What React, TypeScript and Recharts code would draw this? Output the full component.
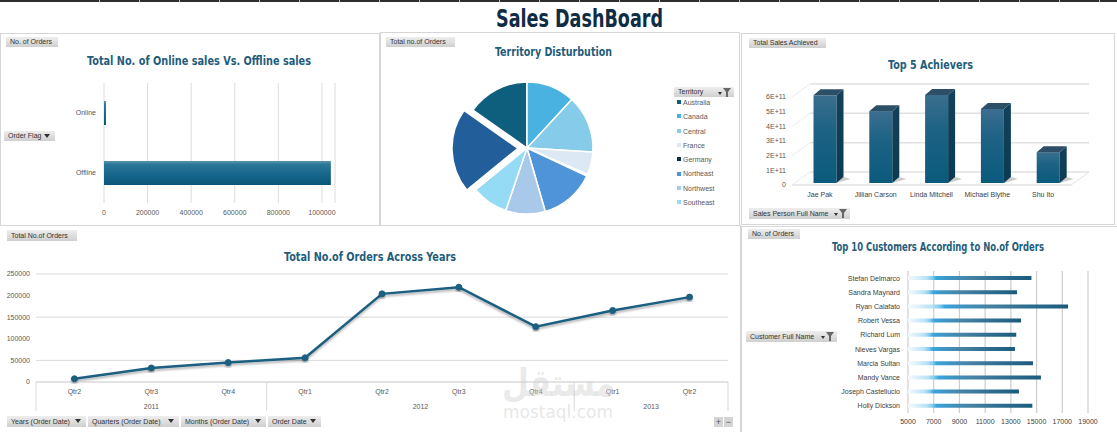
import React from 'react';
import { BarChart, Bar, XAxis, YAxis, CartesianGrid, PieChart, Pie, Cell, LineChart, Line } from 'recharts';

const FONT = "'Liberation Sans', Arial, 'DejaVu Sans', sans-serif";
const TITLE_FONT = "'DejaVu Sans Condensed', 'DejaVu Sans', 'Liberation Sans', sans-serif";
const TEAL = '#1f5d7c';
const AXIS_TEXT = '#595959';

// ---- Online vs Offline ----
const orderFlags = ['Online', 'Offline'];
const orderFlagCounts = [9000, 1041000];
const orderFlagTicks = [0, 200000, 400000, 600000, 800000, 1000000];

// ---- Territory ----
const territories = ['Australia', 'Canada', 'Central', 'France', 'Germany', 'Northeast', 'Northwest', 'Southeast', 'Southwest'];
const territoryOrders = [161000, 125000, 149000, 59000, 4000, 143000, 102000, 94000, 217000];
const territoryColors = ['#0e5e7e', '#4ab2e0', '#87cbea', '#dce9f5', '#0c2c40', '#4f94d8', '#a9c9eb', '#95dbf5', '#225e9a'];
const legendTerritories = ['Australia', 'Canada', 'Central', 'France', 'Germany', 'Northeast', 'Northwest', 'Southeast'];
const explodedTerritory = 'Southwest';

// ---- Top 5 achievers ----
const salesPeople = ['Jae Pak', 'Jillian Carson', 'Linda Mitchell', 'Michael Blythe', 'Shu Ito'];
const salesAchieved = [5.98e11, 4.9e11, 6.0e11, 5.05e11, 2.1e11];
const salesTicks = [0, 1e11, 2e11, 3e11, 4e11, 5e11, 6e11];

// ---- Orders across years ----
const quarters = ['Qtr2', 'Qtr3', 'Qtr4', 'Qtr1', 'Qtr2', 'Qtr3', 'Qtr4', 'Qtr1', 'Qtr2'];
const quarterYears = ['2011', '2011', '2011', '2012', '2012', '2012', '2012', '2013', '2013'];
const quarterOrders = [7500, 32500, 45000, 56000, 204000, 219500, 128000, 165500, 196500];
const orderTicks = [0, 50000, 100000, 150000, 200000, 250000];

// ---- Top 10 customers ----
const customers = ['Stefan Delmarco', 'Sandra Maynard', 'Ryan Calafato', 'Robert Vessa', 'Richard Lum', 'Nieves Vargas', 'Marcia Sultan', 'Mandy Vance', 'Joseph Castellucio', 'Holly Dickson'];
const customerOrders = [14600, 13480, 17450, 13790, 13420, 13320, 14720, 15340, 13630, 14670];
const customerTicks = [5000, 7000, 9000, 11000, 13000, 15000, 17000, 19000];

const flagData = orderFlags.map((f, i) => ({ flag: f, value: orderFlagCounts[i] }));
const territoryData = territories.map((t, i) => ({ name: t, value: territoryOrders[i] }));
const salesData = salesPeople.map((p, i) => ({ name: p, value: salesAchieved[i] }));
const quarterData = quarters.map((q, i) => ({ q, year: quarterYears[i], value: quarterOrders[i] }));
const customerData = customers.map((c, i) => ({ name: c, value: customerOrders[i] }));

const tickStyle = { fontSize: 7, fill: AXIS_TEXT, fontFamily: FONT };
const nameStyle = { fontSize: 7, fill: '#404040', fontFamily: FONT };

const Arrow = () => (
  <svg width={6} height={4} style={{ position: 'absolute', right: 5, top: 3 }}>
    <polygon points="0,0 6,0 3,4" fill="#333" />
  </svg>
);

const FilterIcon = () => (
  <svg width={13} height={9} style={{ position: 'absolute', right: 3, top: 1 }}>
    <polygon points="0,4 4,4 2,7" fill="#333" />
    <polygon points="5,0 13,0 10,4 10,9 8,9 8,4" fill="#666" />
  </svg>
);

const Btn = ({ x, y, w, h = 10, label, arrow = false, filter = false }: any) => (
  <div
    style={{
      position: 'absolute', left: x, top: y, width: w, height: h, boxSizing: 'border-box',
      background: 'linear-gradient(#eeeeee, #cfcfcf)', color: '#333', fontSize: 7,
      lineHeight: `${h}px`, paddingLeft: 4, whiteSpace: 'nowrap', fontFamily: FONT, overflow: 'hidden',
    }}
  >
    {label}
    {arrow && <Arrow />}
    {filter && <FilterIcon />}
  </div>
);

const Title = ({ cx, cy, w, text, size = 12.5, color = TEAL }: any) => (
  <svg style={{ position: 'absolute', left: cx - w / 2 - 2, top: cy - size, overflow: 'visible' }} width={w + 4} height={size * 2}>
    <text
      x={2} y={size * 1.36} textLength={w} lengthAdjust="spacingAndGlyphs"
      fontWeight={700} fontSize={size} fill={color} fontFamily={TITLE_FONT}
    >
      {text}
    </text>
  </svg>
);

const Bar3D = (props: any) => {
  const { x, y, width, height } = props;
  if (width == null || height == null) return null;
  const fx = x + 5.5;
  const fy = y - 2;
  const dx = 7;
  const dy = 6;
  return (
    <g>
      <polygon
        points={`${fx + width},${fy + height} ${fx + width + 14},${fy + height - 4} ${fx + width + dx},${fy + height - dy}`}
        fill="#8c8c8c" opacity={0.45}
      />
      <rect x={fx} y={fy} width={width} height={height} fill="url(#b3front)" />
      <polygon
        points={`${fx + width},${fy} ${fx + width + dx},${fy - dy} ${fx + width + dx},${fy + height - dy} ${fx + width},${fy + height}`}
        fill="url(#b3side)"
      />
      <polygon
        points={`${fx},${fy} ${fx + dx},${fy - dy} ${fx + width + dx},${fy - dy} ${fx + width},${fy}`}
        fill="#2c4e66"
      />
    </g>
  );
};

const Grid3DLine = (p: any) => {
  const { x1, y1, x2 } = p;
  const bottom = p.y != null && p.height != null ? p.y + p.height : null;
  const isFloor = bottom != null ? Math.abs(y1 - bottom) < 0.5 : p.index === 0;
  return (
    <g key={p.key}>
      <line x1={x1} y1={y1} x2={x1 + 18} y2={y1 - 13} stroke="#ececec" strokeWidth={1} />
      <line x1={x1 + 18} y1={y1 - 13} x2={x2 + 18} y2={y1 - 13} stroke="#e2e2e2" strokeWidth={1.5} />
      {isFloor && <line x1={x1} y1={y1} x2={x2} y2={y1} stroke="#e2e2e2" strokeWidth={1.5} />}
      {isFloor && <line x1={x2} y1={y1} x2={x2 + 18} y2={y1 - 13} stroke="#e2e2e2" strokeWidth={1} />}
    </g>
  );
};

// line chart layout
const C4 = { w: 740, h: 206, margin: { top: 48, right: 12, bottom: 20, left: 6 }, yw: 30, xh: 30 };
const C4_BAND = (C4.w - C4.margin.left - C4.margin.right - C4.yw) / quarters.length;

const QuarterTick = (props: any) => {
  const { x, y, payload, index } = props;
  const i = index;
  const n = quarters.length;
  const year = quarterYears[i];
  const isFirst = i === 0 || quarterYears[i - 1] !== year;
  let groupSize = 0;
  for (let j = i; j < n && quarterYears[j] === year; j++) groupSize++;
  const bw = C4_BAND;
  return (
    <g>
      <text x={x} y={y + 12} textAnchor="middle" {...tickStyle}>{payload.value}</text>
      {isFirst && (
        <g>
          <line x1={x - bw / 2} y1={y} x2={x - bw / 2} y2={y + 29} stroke="#d9d9d9" strokeWidth={1} />
          <text x={x + ((groupSize - 1) * bw) / 2} y={y + 27} textAnchor="middle" {...tickStyle}>{year}</text>
        </g>
      )}
      {i === n - 1 && <line x1={x + bw / 2} y1={y} x2={x + bw / 2} y2={y + 29} stroke="#d9d9d9" strokeWidth={1} />}
    </g>
  );
};

// pie geometry
const PIE_START = 145;
const PIE_CX = 146;
const PIE_CY = 115;
const PIE_R = 66;
const totalOrders = territoryOrders.reduce((a, b) => a + b, 0);
const explodedIdx = territories.indexOf(explodedTerritory);
const beforeExploded = territoryOrders.slice(0, explodedIdx).reduce((a, b) => a + b, 0);
const explodedMid = PIE_START - ((beforeExploded + territoryOrders[explodedIdx] / 2) / totalOrders) * 360;
const EXPLODE = 9;
const explodeDx = EXPLODE * Math.cos((explodedMid * Math.PI) / 180);
const explodeDy = -EXPLODE * Math.sin((explodedMid * Math.PI) / 180);

const panels = [
  { x: 0, y: 33, w: 380, h: 193 },
  { x: 380, y: 32, w: 360, h: 194 },
  { x: 741, y: 33, w: 374, h: 192 },
  { x: -2, y: 225, w: 743, h: 212 },
  { x: 741, y: 226, w: 380, h: 210 },
];

const notches = Array.from({ length: 26 }, (_, k) => 99 + k * 40);

export default function App() {
  return (
    <div style={{ position: 'fixed', left: 0, top: 0, width: 1117, height: 432, background: '#fff', overflow: 'hidden', fontFamily: FONT }}>
      <div style={{ position: 'absolute', left: 0, top: 0, width: 1117, height: 2, background: '#2e2e2e' }} />
      {notches.map((nx) => (
        <div key={nx} style={{ position: 'absolute', left: nx, top: 0, width: 1, height: 2, background: '#bdbdbd' }} />
      ))}
      <Title cx={579.5} cy={18} w={167} text="Sales DashBoard" size={25} color="#0f2c44" />

      {panels.map((p, i) => (
        <div key={i} style={{ position: 'absolute', left: p.x, top: p.y, width: p.w, height: p.h, border: '1.5px solid #d6d6d6', boxSizing: 'border-box' }} />
      ))}

      {/* Chart 1: Online vs Offline */}
      <div style={{ position: 'absolute', left: 0, top: 33 }}>
        <BarChart width={380} height={192} data={flagData} layout="vertical" margin={{ top: 50, right: 45, bottom: 6, left: 20 }}>
          <defs>
            <linearGradient id="g1" x1="0" y1="0" x2="0" y2="1">
              <stop offset="0" stopColor="#5a93ae" />
              <stop offset="0.15" stopColor="#2a7697" />
              <stop offset="0.6" stopColor="#15658a" />
              <stop offset="1" stopColor="#0a5577" />
            </linearGradient>
          </defs>
          <CartesianGrid horizontal={false} stroke="#dcdcdc" strokeWidth={1} />
          <XAxis type="number" domain={[0, 1060000]} ticks={orderFlagTicks} axisLine={false} tickLine={false} tickSize={0} tickMargin={7} height={16} tick={tickStyle} interval={0} />
          <YAxis type="category" dataKey="flag" width={84} axisLine={false} tickLine={false} tickSize={0} tickMargin={8} tick={tickStyle} />
          <Bar dataKey="value" fill="url(#g1)" barSize={24} isAnimationActive={false} />
        </BarChart>
      </div>
      <Title cx={199} cy={60.5} w={224} text="Total No. of Online sales Vs. Offline sales" />
      <Btn x={6} y={37} w={52} label="No. of Orders" />
      <Btn x={4} y={131} w={51} label="Order Flag" arrow />

      {/* Chart 2: Territory pie */}
      <div style={{ position: 'absolute', left: 381, top: 33 }}>
        <PieChart width={358} height={192} margin={{ top: 0, right: 0, bottom: 0, left: 0 }}>
          <Pie data={territoryData} dataKey="value" nameKey="name" cx={PIE_CX} cy={PIE_CY} outerRadius={PIE_R} startAngle={PIE_START} endAngle={PIE_START - 360} stroke="#fff" strokeWidth={1.5} isAnimationActive={false} label={false}>
            {territoryData.map((d, i) => (
              <Cell key={d.name} fill={i === explodedIdx ? 'none' : territoryColors[i]} stroke={i === explodedIdx ? 'none' : '#fff'} />
            ))}
          </Pie>
          <Pie data={territoryData} dataKey="value" nameKey="name" cx={PIE_CX + explodeDx} cy={PIE_CY + explodeDy} outerRadius={PIE_R} startAngle={PIE_START} endAngle={PIE_START - 360} stroke="#fff" strokeWidth={1.5} isAnimationActive={false} label={false}>
            {territoryData.map((d, i) => (
              <Cell key={d.name} fill={i === explodedIdx ? territoryColors[i] : 'none'} stroke={i === explodedIdx ? '#fff' : 'none'} />
            ))}
          </Pie>
        </PieChart>
      </div>
      <Title cx={553.5} cy={51.5} w={117} text="Territory Disturbution" />
      <Btn x={386} y={37} w={69} label="Total no.of Orders" />
      <Btn x={674} y={87} w={60} label="Territory" filter />
      {legendTerritories.map((t, i) => (
        <div key={t} style={{ position: 'absolute', left: 677, top: 103 + i * 14.28 - 5, height: 10, lineHeight: '10px', fontSize: 7, color: AXIS_TEXT, whiteSpace: 'nowrap' }}>
          <span style={{ display: 'inline-block', width: 4, height: 4, background: territoryColors[territories.indexOf(t)], marginRight: 2, verticalAlign: 'middle', position: 'relative', top: -1 }} />
          {t}
        </div>
      ))}

      {/* Chart 3: Top 5 Achievers */}
      <div style={{ position: 'absolute', left: 741, top: 33 }}>
        <BarChart width={376} height={192} data={salesData} margin={{ top: 64, right: 46, bottom: 20, left: 6 }}>
          <defs>
            <linearGradient id="b3front" x1="0" y1="0" x2="0" y2="1">
              <stop offset="0" stopColor="#3b6e8e" />
              <stop offset="0.4" stopColor="#1d6285" />
              <stop offset="1" stopColor="#0a5a7c" />
            </linearGradient>
            <linearGradient id="b3side" x1="0" y1="0" x2="0" y2="1">
              <stop offset="0" stopColor="#12425b" />
              <stop offset="1" stopColor="#0b3a52" />
            </linearGradient>
          </defs>
          <CartesianGrid vertical={false} horizontal={Grid3DLine} />
          <XAxis dataKey="name" axisLine={false} tickLine={false} tickSize={0} tickMargin={7} height={20} tick={nameStyle} interval={0} />
          <YAxis domain={[0, 6e11]} ticks={salesTicks} width={45} axisLine={false} tickLine={false} tickSize={0} tickMargin={6} tick={tickStyle} tickFormatter={(v: number) => (v === 0 ? '0' : `${Math.round(v / 1e11)}E+11`)} />
          <Bar dataKey="value" barSize={23} shape={Bar3D} isAnimationActive={false} />
        </BarChart>
      </div>
      <Title cx={930.5} cy={64} w={85} text="Top 5 Achievers" />
      <Btn x={749} y={38} w={77} label="Total Sales Achieved" />
      <Btn x={749} y={208} w={101} h={11} label="Sales Person Full Name" filter />

      {/* Chart 4: Orders across years */}
      <div style={{ position: 'absolute', left: 0, top: 226 }}>
        <LineChart width={C4.w} height={C4.h} data={quarterData} margin={C4.margin}>
          <defs>
            <filter id="lineShadow" x="-10%" y="-10%" width="120%" height="140%">
              <feDropShadow dx="0" dy="2" stdDeviation="1.2" floodColor="#000" floodOpacity="0.3" />
            </filter>
          </defs>
          <CartesianGrid vertical={false} stroke="#d9d9d9" strokeWidth={1} />
          <XAxis dataKey="q" height={C4.xh} padding={{ left: C4_BAND / 2, right: C4_BAND / 2 }} axisLine={{ stroke: '#d9d9d9' }} tickLine={false} tickSize={0} tickMargin={0} interval={0} tick={QuarterTick} />
          <YAxis domain={[0, 250000]} ticks={orderTicks} width={C4.yw} axisLine={false} tickLine={false} tickSize={0} tickMargin={6} tick={tickStyle} />
          <Line type="linear" dataKey="value" stroke="#1d5f80" strokeWidth={2.5} filter="url(#lineShadow)" dot={{ r: 3, fill: '#1d5f80', stroke: '#1d5f80', strokeWidth: 1 }} isAnimationActive={false} />
        </LineChart>
      </div>
      <Title cx={370} cy={256.5} w={172} text="Total No.of Orders Across Years" />
      <Btn x={7} y={230} w={70} h={11} label="Total No.of Orders" />
      <Btn x={7} y={416} w={79} h={11} label="Years (Order Date)" arrow />
      <Btn x={88} y={416} w={91} h={11} label="Quarters (Order Date)" arrow />
      <Btn x={181} y={416} w={85} h={11} label="Months (Order Date)" arrow />
      <Btn x={268} y={416} w={53} h={11} label="Order Date" arrow />
      <div style={{ position: 'absolute', left: 714, top: 417, width: 9, height: 10, background: '#d4d4d4', color: '#555', fontSize: 9, lineHeight: '10px', textAlign: 'center' }}>+</div>
      <div style={{ position: 'absolute', left: 724, top: 417, width: 9, height: 10, background: '#d4d4d4', color: '#555', fontSize: 9, lineHeight: '10px', textAlign: 'center' }}>−</div>

      {/* Chart 5: Top 10 customers */}
      <div style={{ position: 'absolute', left: 741, top: 226 }}>
        <BarChart width={376} height={206} data={customerData} layout="vertical" margin={{ top: 45, right: 29, bottom: 4, left: 7 }}>
          <defs>
            <linearGradient id="custGrad" x1="0" y1="0" x2="1" y2="0">
              <stop offset="0" stopColor="#f5fbfe" />
              <stop offset="0.15" stopColor="#b9e2f5" />
              <stop offset="0.2" stopColor="#7cc8ec" />
              <stop offset="0.23" stopColor="#3aa5dc" />
              <stop offset="0.33" stopColor="#3f95c4" />
              <stop offset="0.5" stopColor="#4682a3" />
              <stop offset="0.75" stopColor="#2e6d8f" />
              <stop offset="1" stopColor="#1b5c7e" />
            </linearGradient>
          </defs>
          <CartesianGrid horizontal={false} stroke="#cdcdcd" strokeWidth={1.2} />
          <XAxis type="number" domain={[5000, 19000]} ticks={customerTicks} axisLine={false} tickLine={false} tickSize={0} tickMargin={6} height={15} tick={nameStyle} interval={0} />
          <YAxis type="category" dataKey="name" width={160} axisLine={false} tickLine={false} tickSize={0} tickMargin={8} tick={nameStyle} interval={0} />
          <Bar dataKey="value" fill="url(#custGrad)" barSize={4} isAnimationActive={false} />
        </BarChart>
      </div>
      <Title cx={938} cy={246} w={212} text="Top 10 Customers According to No.of Orders" />
      <Btn x={748} y={229} w={52} label="No. of Orders" />
      <Btn x={746} y={331} w={91} h={11} label="Customer Full Name" filter />

      {/* watermark */}
      <svg style={{ position: 'absolute', left: 495, top: 350, pointerEvents: 'none', overflow: 'visible' }} width={130} height={78}>
        <text x={7} y={46} textLength={113} lengthAdjust="spacingAndGlyphs" fontSize={38} fontWeight={700} fill="#d0d0d0" fillOpacity={0.45} fontFamily="'DejaVu Sans', sans-serif">مستقل</text>
        <text x={8} y={68} textLength={110} lengthAdjust="spacingAndGlyphs" fontSize={18} fill="#d0d0d0" fillOpacity={0.5} fontFamily="'DejaVu Sans', sans-serif">mostaql.com</text>
      </svg>
    </div>
  );
}
